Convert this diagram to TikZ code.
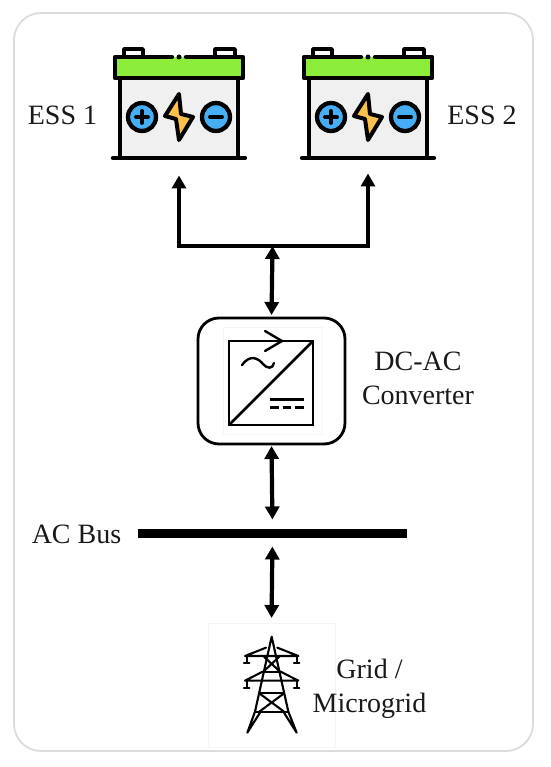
\documentclass[tikz,border=0pt]{standalone}
\usepackage{fontspec}
\setmainfont{Liberation Serif}
\usetikzlibrary{arrows.meta}
\definecolor{lidgreen}{HTML}{8CEE3A}
\definecolor{termblue}{HTML}{45AEF5}
\definecolor{boltyellow}{HTML}{FCC14B}
\definecolor{bodygray}{HTML}{F0F0F0}
\definecolor{frame}{HTML}{DCDCDC}
\tikzset{
  x=1pt,y=-1pt,
  lbl/.style={font=\fontsize{28}{34}\selectfont,text=black!90,inner sep=0pt,align=center},
  ghost/.style={draw=none,inner sep=0pt,outer sep=0pt},
  biarrow/.style={line width=4.2pt,{Triangle[width=14pt,length=13pt]}-{Triangle[width=14pt,length=13pt]}},
  icon/.style={line width=4.3pt,draw=black,line join=round,line cap=round},
  battery/.pic={
    \fill[bodygray,icon] (-59,-39) rectangle (59,41);
    \draw[icon] (-66,41) -- (66,41);
    \draw[icon,fill=white,line width=3.6pt] (-55,-52) -- (-55,-68) -- (-36,-68) -- (-36,-52);
    \draw[icon,fill=white,line width=3.6pt] (36,-52) -- (36,-68) -- (56,-68) -- (56,-52);
    \fill[lidgreen] (-64,-60) rectangle (64,-39);
    \draw[icon] (-7,-60) -- (-64,-60) -- (-64,-39) -- (64,-39) -- (64,-60) -- (7,-60);
    \fill (0,-60) circle (2.5);
    \draw[icon,fill=termblue] (-37,0) circle (14);
    \draw[icon,fill=termblue] (37,0) circle (14);
    \draw[icon,line width=3.8pt] (-43,0) -- (-31,0) (-37,-6) -- (-37,6);
    \draw[icon,line width=3.8pt] (31,0) -- (43,0);
    \draw[icon,fill=boltyellow,line width=4pt] (0,-23) -- (-14,-1) -- (-3,2) -- (0,23) -- (14,0) -- (2,-3) -- cycle;
  }
}
\begin{document}
\begin{tikzpicture}
\useasboundingbox (0,0) rectangle (550,767);
\fill[white] (0,0) rectangle (550,767);
\node[ghost,draw=frame,line width=1.8pt,rounded corners=27pt,minimum width=519pt,minimum height=738pt] (panel) at (273.5,382) {};

% batteries
\node[ghost,minimum width=132pt,minimum height=113pt] (ess1) at (179,102) {};
\node[ghost,minimum width=132pt,minimum height=113pt] (ess2) at (368,102) {};
\pic at (179,117) {battery};
\pic at (368,117) {battery};
\node[lbl] (ess1lbl) at (62.5,115) {ESS 1};
\node[lbl] (ess2lbl) at (482,115) {ESS 2};

% converter
\node[ghost,draw=black,line width=2.8pt,rounded corners=21pt,minimum width=147pt,minimum height=126pt] (conv) at (271.5,381) {};
\node[ghost,draw=black!4,line width=.8pt,minimum width=99pt,minimum height=107pt] (convback) at (272.5,380.5) {};
\node[ghost,draw=black,line width=2.5pt,minimum width=84pt,minimum height=84pt] (convicon) at (271,383) {};
\draw[line width=2.5pt] (convicon.south west) -- (convicon.north east);
\draw[line width=2.4pt,line cap=round,line join=miter] (265,331) -- (282,341) -- (265,351);
\draw[line width=2.4pt,line cap=round] (242,365) .. controls (250,354) and (258,358) .. (263,364) .. controls (267,369) and (273,369) .. (274,363);
\draw[line width=2.5pt] (270,399.5) -- (304,399.5);
\draw[line width=2.5pt,dash pattern=on 8.5pt off 4pt] (270,407.5) -- (304,407.5);
\node[lbl] (convlbl) at (418,378) {DC-AC\\Converter};

% AC bus
\node[ghost,fill=black,minimum width=269pt,minimum height=9pt] (bus) at (272.5,533) {};
\node[lbl] (buslbl) at (76.5,534) {AC Bus};

% tower
\node[ghost,draw=black!4,line width=.8pt,minimum width=127pt,minimum height=124pt] (grid) at (271.5,685) {};
\begin{scope}[shift={(200,610)},x=.3333pt,y=-.3333pt,line width=2.1pt,line cap=round,line join=round]
  \draw (165,305) -- (215,80) -- (265,305);
  \draw (165,305) -- (142,368) -- (180,308);
  \draw (265,305) -- (290,368) -- (252,308);
  \draw (165,305) -- (265,305);
  \draw (178,250) -- (252,250);
  \draw (178,250) -- (252,305) (252,250) -- (178,305);
  \draw (135,138) -- (198,113) (295,138) -- (232,113) (135,138) -- (295,138);
  \draw (135,212) -- (188,185) (295,212) -- (242,185) (135,212) -- (295,212);
  \draw (188,185) -- (242,185);
  \draw (192,140) -- (240,185) (238,140) -- (190,185);
  \foreach \px in {140,290} {
    \draw (\px,138) -- (\px,158) (\px-8,158) -- (\px+8,158);
    \draw (\px,212) -- (\px,233) (\px-8,233) -- (\px+8,233);
  }
\end{scope}
\node[lbl] (gridlbl) at (369.5,689) {Grid /\\Microgrid};

% connectors
\coordinate (hub) at (272.5,246);
\draw[biarrow,shorten <=17pt,shorten >=15pt,line join=miter] (ess1.south) |- (hub) -| (ess2.south);
\draw[biarrow,shorten >=3pt] (hub) -- (conv.north);
\draw[biarrow,shorten <=2pt,shorten >=9pt] (conv.south) -- (bus.north);
\draw[biarrow,shorten <=9pt,shorten >=5pt] (bus.south) -- (grid.north);
\end{tikzpicture}
\end{document}
